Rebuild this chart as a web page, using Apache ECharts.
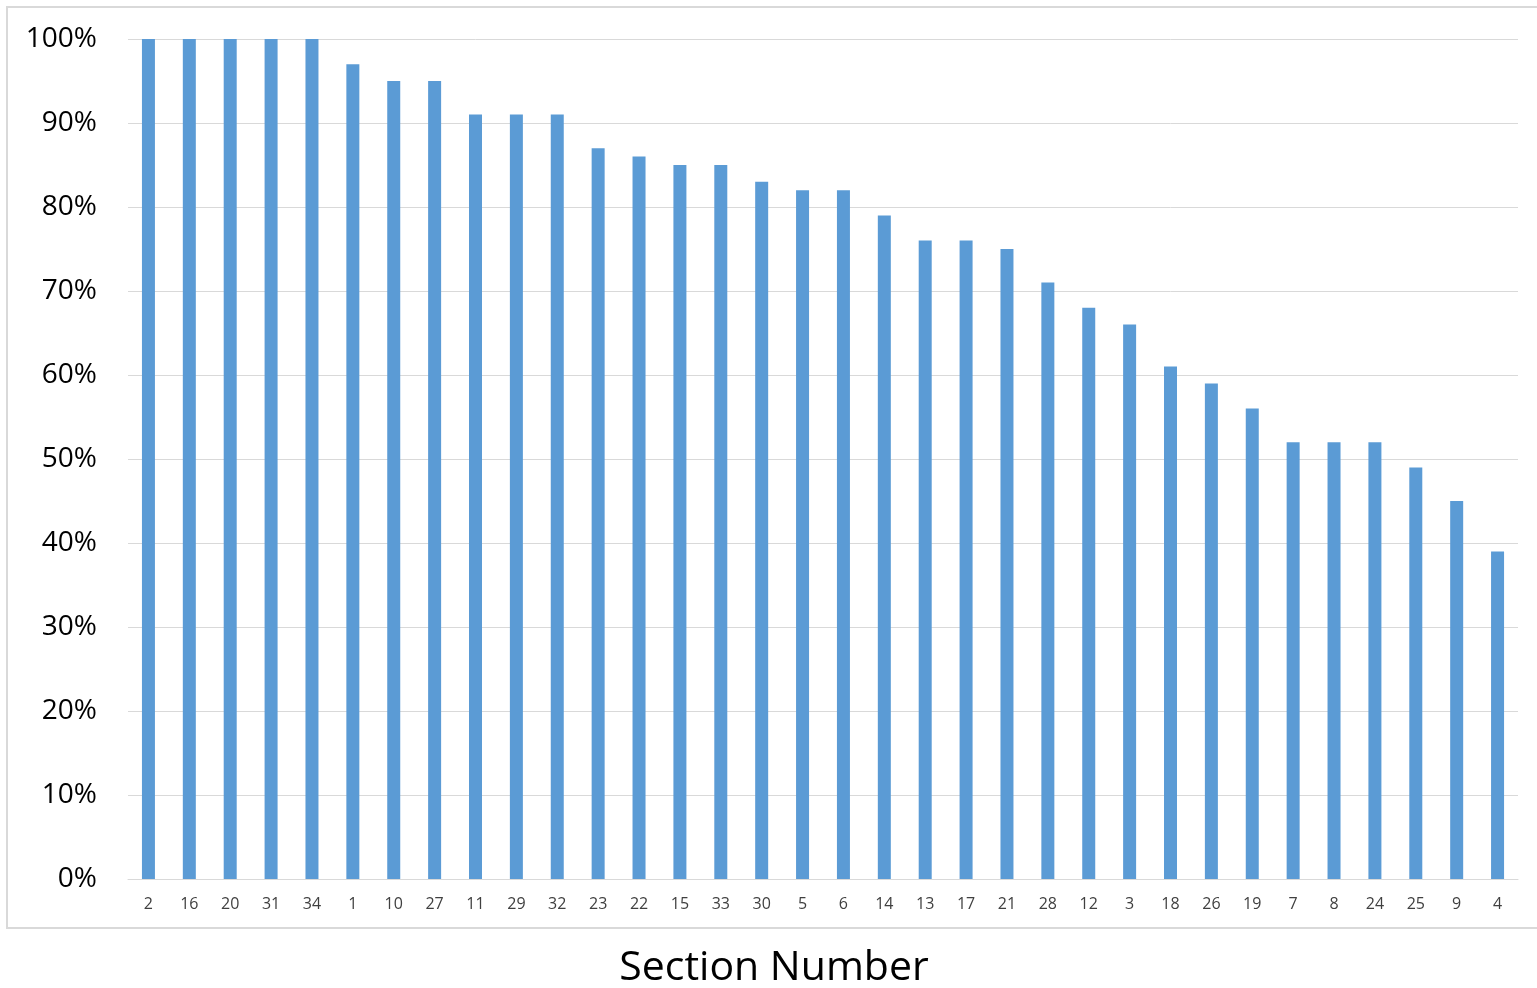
<!DOCTYPE html>
<html>
<head>
<meta charset="utf-8">
<script src="https://cdn.jsdelivr.net/npm/echarts@6/dist/echarts.min.js"></script>
<style>
html,body{margin:0;padding:0;background:#fff;}
#chart{width:1537px;height:988px;}
</style>
</head>
<body>
<div id="chart"></div>
<script>
const categories = ['2','16','20','31','34','1','10','27','11','29','32','23','22','15','33','30','5','6','14','13','17','21','28','12','3','18','26','19','7','8','24','25','9','4'];
const values = [100,100,100,100,100,97,95,95,91,91,91,87,86,85,85,83,82,82,79,76,76,75,71,68,66,61,59,56,52,52,52,49,45,39];
const yTicks = [0,10,20,30,40,50,60,70,80,90,100];
const axisTitle = 'Section Number';

const chart = echarts.init(document.getElementById('chart'), null, {renderer:'canvas'});
chart.setOption({
  animation: false,
  backgroundColor: '#ffffff',
  grid: {left: 128, right: 19, top: 39, bottom: 109, containLabel: false},
  graphic: [
    {type:'rect', shape:{x:7, y:7, width:1560, height:921}, style:{fill:'none', stroke:'#d9d9d9', lineWidth:2}, z:-1},
    {type:'text', x: 774, y: 968, style:{text: axisTitle, font:'41px "Open Sans", Lato, sans-serif', fill:'#000000', align:'center', verticalAlign:'middle'}}
  ],
  xAxis: {
    type: 'category',
    data: categories,
    axisLine: {lineStyle:{color:'#d9d9d9', width:1}},
    axisTick: {show:false},
    axisLabel: {color:'#404040', fontSize:16, fontFamily:'"Open Sans", Lato, sans-serif', margin:17, interval:0}
  },
  yAxis: {
    type: 'value',
    min: yTicks[0], max: yTicks[yTicks.length-1], interval: 10,
    axisLine: {show:false},
    axisTick: {show:false},
    splitLine: {lineStyle:{color:'#d9d9d9', width:1}},
    axisLabel: {formatter: v => v + '%', color:'#000000', fontSize:28, fontFamily:'"Open Sans", Lato, sans-serif', margin:31}
  },
  series: [{
    type: 'bar',
    data: values,
    barWidth: 13,
    itemStyle: {color:'#5b9bd5'}
  }]
});
</script>
</body>
</html>
